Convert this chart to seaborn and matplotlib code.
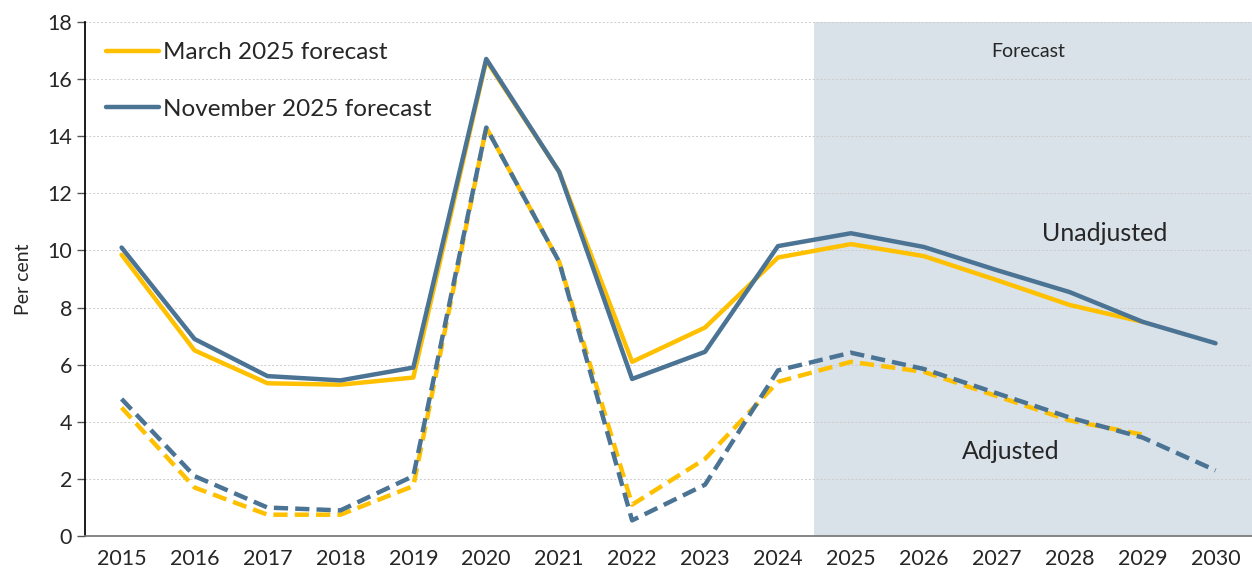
import numpy as np
import pandas as pd
import matplotlib
matplotlib.use("Agg")
import matplotlib.pyplot as plt
import seaborn as sns

sns.set_theme(style="white")
plt.rcParams['font.family'] = ['Lato', 'DejaVu Sans']

# data (per cent)
years = list(range(2015, 2031))
mar_unadj = [9.85, 6.5, 5.35, 5.3, 5.55, 16.65, 12.75, 6.1, 7.3, 9.75,
             10.22, 9.8, 8.96, 8.09, 7.5, np.nan]
nov_unadj = [10.1, 6.9, 5.6, 5.45, 5.9, 16.7, 12.75, 5.5, 6.45, 10.15,
             10.6, 10.12, 9.31, 8.54, 7.5, 6.75]
mar_adj = [4.5, 1.7, 0.75, 0.75, 1.75, 14.3, 9.6, 1.1, 2.7, 5.4,
           6.1, 5.75, 4.9, 4.05, 3.55, np.nan]
nov_adj = [4.8, 2.1, 1.0, 0.9, 2.1, 14.3, 9.6, 0.55, 1.8, 5.8,
           6.42, 5.85, 5.0, 4.15, 3.45, 2.3]

YELLOW = '#FFC000'
BLUE = '#4A7394'
SHADE = '#D9E1E9'

df = pd.DataFrame({'year': years, 'mar_unadj': mar_unadj, 'nov_unadj': nov_unadj,
                   'mar_adj': mar_adj, 'nov_adj': nov_adj})

fig = plt.figure(figsize=(12.52, 5.74), dpi=100)
ax = fig.add_axes([0.068, 0.066, 0.932, 0.896])

# forecast shading
ax.axvspan(2024.5, 2030.5, color=SHADE, lw=0, zorder=0)

lw = 3.2
sns.lineplot(data=df, x='year', y='mar_unadj', ax=ax, color=YELLOW, lw=lw,
             label='March 2025 forecast', zorder=3)
sns.lineplot(data=df, x='year', y='nov_unadj', ax=ax, color=BLUE, lw=lw,
             label='November 2025 forecast', zorder=4)
l1 = sns.lineplot(data=df, x='year', y='mar_adj', ax=ax, color=YELLOW, lw=lw,
                  zorder=3).lines[-1]
l1.set_dashes((3.2, 1.6))
l2 = sns.lineplot(data=df, x='year', y='nov_adj', ax=ax, color=BLUE, lw=lw,
                  zorder=4).lines[-1]
l2.set_dashes((3.2, 1.6))

ax.set_xlim(2014.5, 2030.5)
ax.set_ylim(0, 18)
ax.set_yticks(range(0, 19, 2))
ax.set_xticks(years)
ax.set_xticklabels([str(y) for y in years])
ax.set_xticks(np.arange(2014.5, 2031, 1), minor=True)
ax.tick_params(axis='x', which='major', length=0, labelsize=15.5, pad=9)
ax.tick_params(axis='x', which='minor', length=7, color='#555555', width=1, direction='out')
ax.tick_params(axis='y', length=6, color='#555555', width=1, labelsize=15.5, left=True)
ax.set_xlabel('')
ax.set_ylabel('Per cent', fontsize=14, labelpad=11)

ax.grid(axis='y', color='#cccccc', ls=(0, (2, 2)), lw=0.7)
ax.set_axisbelow(True)
for s in ['top', 'right']:
    ax.spines[s].set_visible(False)
ax.spines['left'].set_color('black')
ax.spines['bottom'].set_color('#777777')

ax.text(2027.43, 16.95, 'Forecast', fontsize=14, ha='center', va='center')
ax.text(2028.48, 10.6, 'Unadjusted', fontsize=18, ha='center', va='center')
ax.text(2027.19, 2.95, 'Adjusted', fontsize=18, ha='center', va='center')

leg = ax.legend(loc='upper left', bbox_to_anchor=(0.0, 1.0), frameon=False,
                fontsize=17.5, handlelength=2.2, handletextpad=0.15, labelspacing=1.45,
                borderaxespad=0.45)

fig.savefig('out.png', dpi=100)
